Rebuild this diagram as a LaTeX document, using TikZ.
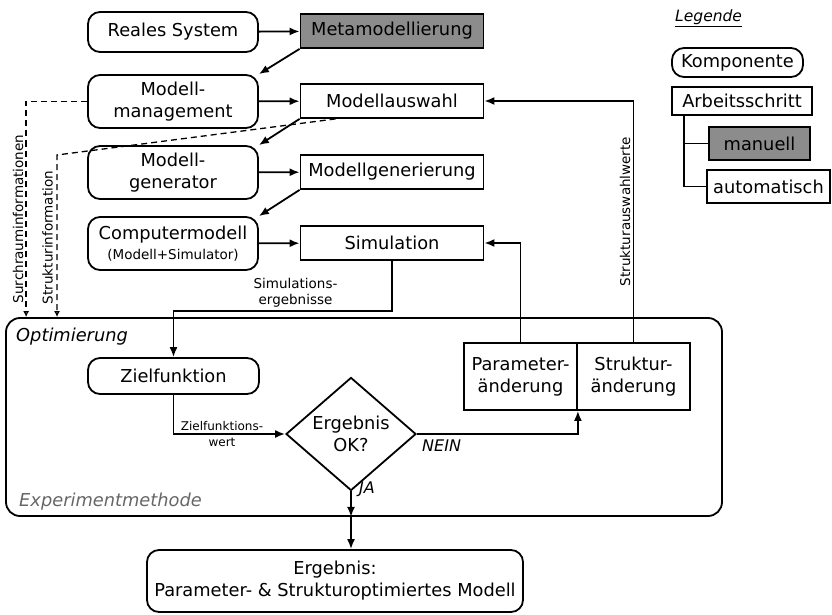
\documentclass[tikz,border=0pt]{standalone}
\usepackage{fontspec}
\setmainfont{DejaVu Sans}
\usetikzlibrary{arrows.meta, shapes.geometric}
\usetikzlibrary{calc}

\begin{document}
\begin{tikzpicture}[x=1pt, y=-1pt, line width=1.8pt, font=\fontsize{17.8}{22}\selectfont,
    komponente/.style={draw, rounded corners=12pt, align=center, inner sep=0pt},
    schritt/.style={draw, align=center, inner sep=0pt},
    manuell/.style={schritt, fill=black!45},
    pfeil/.style={-{Latex[length=10pt,width=8pt]}},
    info/.style={line width=1.3pt, dash pattern=on 6pt off 4pt, -{Latex[open,length=6pt,width=6pt]}},
    klein/.style={font=\fontsize{13.5}{16}\selectfont, align=center, inner sep=0pt}]
        \useasboundingbox (0,0) rectangle (832,615);

        % Optimierung
        \node[draw, rounded corners=14pt, minimum width=716, minimum height=198] (opt) at (364,417) {};
        \node[anchor=west, font=\fontsize{17.8}{22}\selectfont\itshape] (opttext) at (12,337) {Optimierung};
        \node[anchor=west, text=black!60, font=\fontsize{17.8}{22}\selectfont\itshape] (exptext) at (15,502) {Experimentmethode};

        % Komponenten
        \node[komponente, minimum width=170, minimum height=40] (real) at (173,32) {Reales System};
        \node[komponente, minimum width=170, minimum height=53] (mgmt) at (173,101.5) {Modell-\\management};
        \node[komponente, minimum width=170, minimum height=53] (gen) at (173,172.5) {Modell-\\generator};
        \node[komponente, minimum width=170, minimum height=53] (cmod) at (173,243.5) {Computermodell\\[-2pt]{\fontsize{13.5}{16}\selectfont(Modell+Simulator)}};
        \node[komponente, minimum width=171, minimum height=36] (zf) at (173.5,376) {Zielfunktion};
        \node[komponente, minimum width=376, minimum height=62] (erg) at (335,581) {Ergebnis:\\Parameter- \& Strukturoptimiertes Modell};

        % Arbeitsschritte
        \node[manuell, minimum width=183, minimum height=34] (meta) at (392,31) {Metamodellierung};
        \node[schritt, minimum width=183, minimum height=34] (auswahl) at (392,101) {Modellauswahl};
        \node[schritt, minimum width=183, minimum height=34] (mgen) at (392,172) {Modellgenerierung};
        \node[schritt, minimum width=183, minimum height=34] (sim) at (392,243) {Simulation};
        \node[schritt, minimum width=113, minimum height=67] (param) at (520.5,376.5) {Parameter-\\änderung};
        \node[schritt, minimum width=113, minimum height=67] (struk) at (633.5,376.5) {Struktur-\\änderung};
        \node[draw, diamond, minimum width=130, minimum height=75, inner sep=0pt, align=center] (ok) at (351,434) {Ergebnis\\OK?};

        % Pfeile
        \draw[pfeil] (real) -- (meta);
        \draw[pfeil] (meta.south west) -- (mgmt.north east);
        \draw[pfeil] (mgmt) -- (auswahl);
        \draw[pfeil] (auswahl.south west) -- (gen.north east);
        \draw[pfeil] (gen) -- (mgen);
        \draw[pfeil] (mgen.south west) -- (cmod.north east);
        \draw[pfeil] (cmod) -- (sim);
        \draw[pfeil] (sim.south) -- ++(0,50) -| (zf.north);
        \node[klein] (simerg) at (295.5,293) {Simulations-\\ergebnisse};
        \draw[pfeil] (zf.south) |- (ok.west);
        \node[klein, font=\fontsize{12}{16}\selectfont] (zfwert) at (222,434) {Zielfunktions-\\wert};
        \draw[pfeil] (ok.east) -| (param.south east);
        \node[anchor=west, font=\fontsize{16}{20}\selectfont\itshape] (nein) at (418,446) {NEIN};
        \coordinate (jaaus) at (ok.south |- opt.south);
        \draw[pfeil] (ok.south) -- (jaaus);
        \draw[pfeil] (jaaus) -- (jaaus |- erg.north);
        \node[anchor=west, font=\fontsize{16}{20}\selectfont\itshape] (ja) at (355,489) {JA};
        \draw[pfeil] (param.north) |- (sim.east);
        \draw[pfeil] (struk.north) |- (auswahl.east);
        \node[klein, rotate=90] (sawerte) at (625,211.5) {Strukturauswahlwerte};

        % Informationen
        \coordinate (sknick) at (57,155);
        \draw[info] (mgmt.west) -| ($(opt.north west)+(21,0)$);
        \draw[info] ($(auswahl.south west)+(36,0)$) -- (sknick) -- (sknick |- opt.north);
        \node[klein, rotate=90] (surch) at (18,219) {Surchrauminformationen};
        \node[klein, rotate=90] (strinfo) at (47.5,237.5) {Strukturinformation};

        % Legende
        \node[font=\fontsize{15.5}{18}\selectfont\itshape, anchor=west] (leg) at (671,18) {\underline{Legende}};
        \node[komponente, minimum width=131, minimum height=29] (lkomp) at (737.5,62.5) {Komponente};
        \node[schritt, minimum width=140, minimum height=28] (lschritt) at (742,101) {Arbeitsschritt};
        \node[manuell, minimum width=101, minimum height=33] (lman) at (759.5,143.5) {manuell};
        \node[schritt, minimum width=123, minimum height=33] (lauto) at (768.5,186.5) {automatisch};
        \coordinate (lbaum) at (684,115);
        \draw (lbaum) |- (lman.west);
        \draw (lbaum) |- (lauto.west);
\end{tikzpicture}
\end{document}
